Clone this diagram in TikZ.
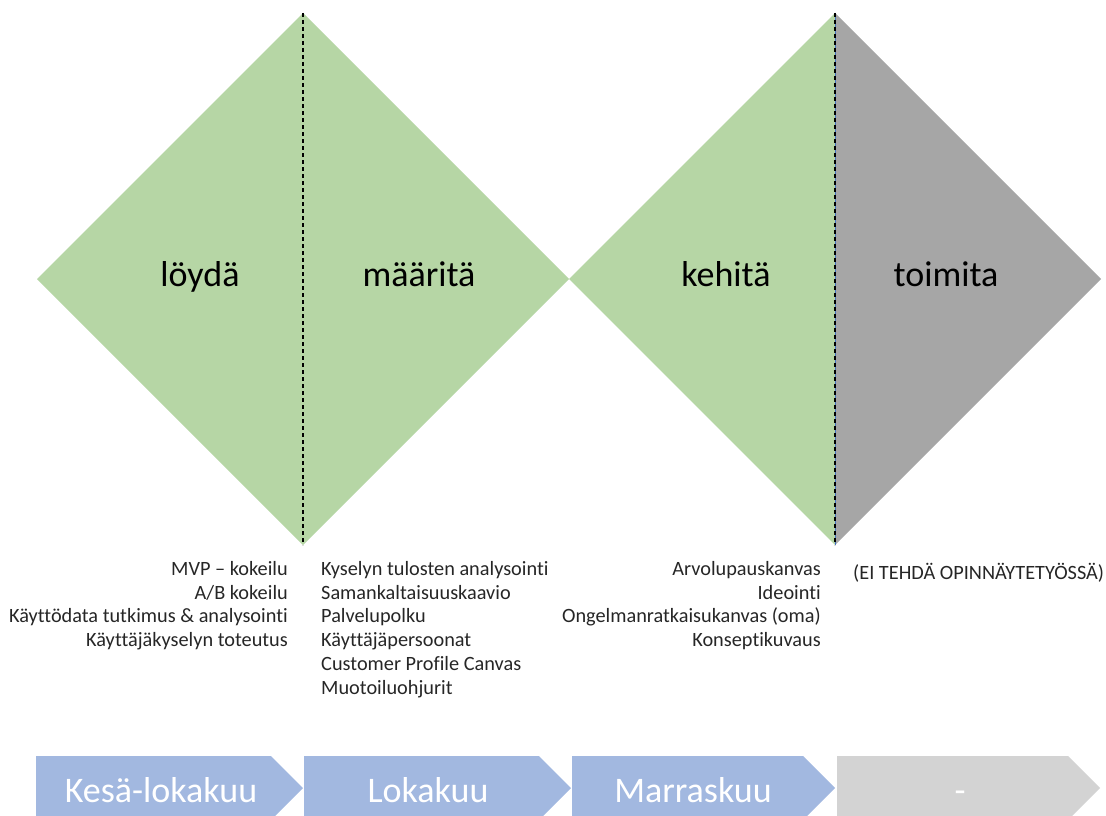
\documentclass[tikz,border=0pt]{standalone}
\usepackage{fontspec}
\setmainfont{Carlito}[Ligatures=NoCommon]
\usetikzlibrary{positioning}
\definecolor{leafgreen}{RGB}{182,214,165}
\definecolor{stonegray}{RGB}{166,166,166}
\definecolor{skyblue}{RGB}{162,184,224}
\definecolor{palegray}{RGB}{211,211,211}
\definecolor{seamblue}{RGB}{68,114,196}
\tikzset{
  phase/.style={font=\fontsize{36}{40}\selectfont,anchor=base,inner sep=0pt},
  toollist/.style={font=\fontsize{20.3}{23.8}\selectfont,inner sep=0pt,text=black!85},
  month/.style={font=\fontsize{36}{40}\selectfont,text=white,inner sep=0pt,anchor=base},
  seam/.style={line width=1.5pt,dash pattern=on 4pt off 3pt},
}

\begin{document}
\begin{tikzpicture}[x=1pt,y=-1pt]
  \clip (0,0) rectangle (1106,816);

  % corners of the two diamonds
  \coordinate (w1) at (37,279);
  \coordinate (n1) at (303,13);
  \coordinate (s1) at (303,545);
  \coordinate (mid) at (569,279);
  \coordinate (n2) at (835,13);
  \coordinate (s2) at (835,545);
  \coordinate (e2) at (1101,279);

  \fill[leafgreen] (w1) -- (n1) -- (mid) -- (s1) -- cycle;
  \fill[leafgreen] (mid) -- (n2) -- (s2) -- cycle;
  \fill[stonegray] (n2) -- (e2) -- (s2) -- cycle;
  \draw[seam] (n1) -- (s1);
  \draw[seamblue,line width=1pt] ([xshift=0.8pt]n2) -- ([xshift=0.8pt]s2);
  \draw[seam] (n2) -- (s2);

  \node[phase] (loyda) at (200,286) {löydä};
  \node[phase] (maarita) at (419,286) {määritä};
  \node[phase] (kehita) at (726,286) {kehitä};
  \node[phase] (toimita) at (946,286) {toimita};

  % method lists under the phases
  \node[toollist,align=right,anchor=north east] (list1) at (288,561)
    {MVP – kokeilu\\A/B kokeilu\\Käyttödata tutkimus \& analysointi\\Käyttäjäkyselyn toteutus};
  \node[toollist,align=left,anchor=north west] (list2) at (321,561)
    {Kyselyn tulosten analysointi\\Samankaltaisuuskaavio\\Palvelupolku\\Käyttäjäpersoonat\\Customer Profile Canvas\\Muotoiluohjurit};
  \node[toollist,align=right,anchor=north east] (list3) at (821,561)
    {Arvolupauskanvas\\Ideointi\\Ongelmanratkaisukanvas (oma)\\Konseptikuvaus};
  \node[toollist,align=left,anchor=north west] (list4) at (853,563)
    {(EI TEHDÄ OPINNÄYTETYÖSSÄ)};

  % timeline arrows
  \fill[skyblue] (36,756) -- (271,756) -- (303,788) -- (271,820) -- (36,820) -- cycle;
  \fill[skyblue] (304,756) -- (539,756) -- (571,788) -- (539,820) -- (304,820) -- cycle;
  \fill[skyblue] (572,756) -- (803,756) -- (835,788) -- (803,820) -- (572,820) -- cycle;
  \fill[palegray] (837,756) -- (1068,756) -- (1100,788) -- (1068,820) -- (837,820) -- cycle;

  \node[month] (kesa) at (161,802) {Kesä-lokakuu};
  \node[month] (loka) at (428,802) {Lokakuu};
  \node[month] (marras) at (693,802) {Marraskuu};
  \node[month] (viela) at (960,802) {-};
\end{tikzpicture}
\end{document}
